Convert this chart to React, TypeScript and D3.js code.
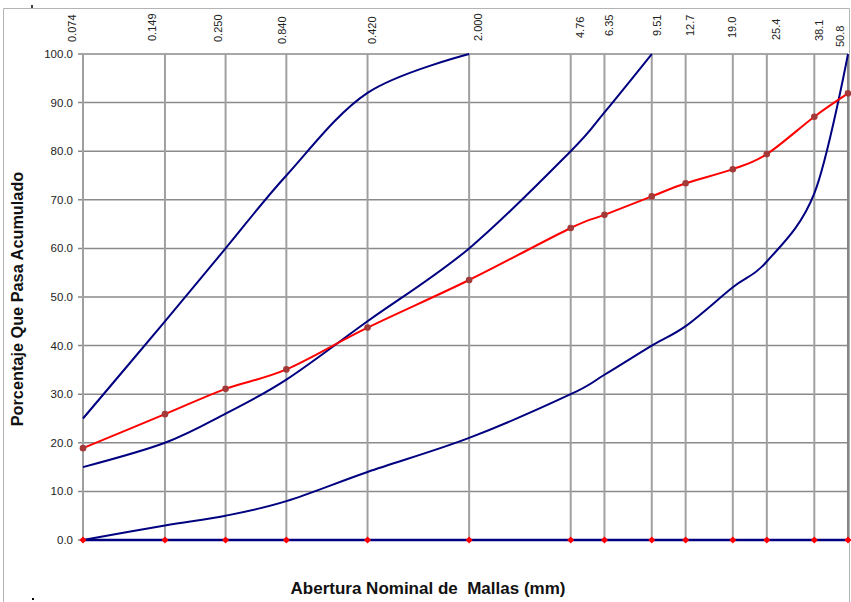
import * as d3 from "d3";

// sieve openings (mm) and the labels printed above each line
const sieveSizes = [0.074, 0.149, 0.25, 0.42, 0.84, 2.0, 4.76, 6.35, 9.51, 12.7, 19.0, 25.4, 38.1, 50.8];
const sieveLabels = ["0.074", "0.149", "0.250", "0.840", "0.420", "2.000", "4.76", "6.35", "9.51", "12.7", "19.0", "25.4", "38.1", "50.8"];

// % passing, sample curve
const passing = [18.9, 25.9, 31.1, 35.1, 43.7, 53.5, 64.2, 66.9, 70.7, 73.4, 76.3, 79.4, 87.1, 91.9];
// envelope curves (blue)
const upperCurve = [25, 45, 60, 75, 92, 100];
const middleCurve = [15, 20, 26, 33, 45, 60, 80, 88, 100];
const lowerCurve = [0, 3, 5, 8, 14, 21, 30, 34, 40, 44, 52, 57.3, 71.3, 100];
const zeroSeries = [0, 0, 0, 0, 0, 0, 0, 0, 0, 0, 0, 0, 0, 0];

const yTicks = [0, 10, 20, 30, 40, 50, 60, 70, 80, 90, 100];

// hand placed label nudges (the top labels are not exactly on their lines)
const labelDx = [-11, -13, -8, -4, 4, 9, 9, 5, 5, 4, -1, 9, 5, -8];
const labelDy = [1, 0, 1, 3, 3, 0, -3, -5, -5, -5, -3, -1, 0, 6];

const W = 851;
const H = 602;
const left = 83;
const right = 848;
const top = 54;
const bottom = 540;

const App = () => {
  const x = d3.scaleLog().domain([0.074, 50.8]).range([left, right]);
  const y = d3.scaleLinear().domain([0, 100]).range([bottom, top]);

  const line = d3
    .line<[number, number]>()
    .x((d) => x(d[0]))
    .y((d) => y(d[1]))
    .curve(d3.curveCatmullRom.alpha(0));

  const pts = (vals: number[]) => vals.map((v, i) => [sieveSizes[i], v] as [number, number]);

  const blues = [upperCurve, middleCurve, lowerCurve];

  return (
    <div>
      <style>{"body{margin:0}"}</style>
      <svg width={W} height={H} style={{ display: "block", fontFamily: "Arial, 'Liberation Sans', sans-serif" }}>
        <rect x={0} y={0} width={W} height={H} fill="white" />
        {/* outer frame */}
        <path d={`M3.5,${H} V8.5 H849.5 V${H}`} fill="none" stroke="#b4b4b4" strokeWidth={1} />
        <line x1={32} x2={32} y1={5} y2={8} stroke="#000" strokeWidth={1.5} />
        <line x1={32} x2={34} y1={599} y2={599} stroke="#000" strokeWidth={2} />

        {/* horizontal grid */}
        {yTicks.map((t) => (
          <line key={"h" + t} x1={left - 5} x2={right} y1={y(t)} y2={y(t)} stroke="#8a8a8a" strokeWidth={1.5} />
        ))}
        {/* vertical grid */}
        {sieveSizes.map((s) => (
          <line key={"v" + s} x1={x(s)} x2={x(s)} y1={top} y2={bottom} stroke="#a0a0a0" strokeWidth={2} />
        ))}
        <line x1={right} x2={right} y1={top} y2={bottom} stroke="#6a6a6a" strokeWidth={1} />

        {/* y labels */}
        {yTicks.map((t) => (
          <text key={"yl" + t} x={73} y={y(t)} textAnchor="end" dominantBaseline="central" fontSize={11.5} fill="#222">
            {t.toFixed(1)}
          </text>
        ))}

        {/* top sieve labels */}
        {sieveLabels.map((lab, i) => {
          const cx = x(sieveSizes[i]) + labelDx[i];
          const ey = 41 + labelDy[i];
          return (
            <text
              key={"tl" + i}
              transform={`translate(${cx},${ey}) rotate(-90)`}
              textAnchor="start"
              dominantBaseline="central"
              fontSize={11}
              fill="#222"
            >
              {lab}
            </text>
          );
        })}

        {/* envelope curves */}
        {blues.map((c, i) => (
          <path key={"b" + i} d={line(pts(c)) || ""} fill="none" stroke="#000080" strokeWidth={2} />
        ))}

        {/* zero line + markers */}
        <path d={d3.line<[number, number]>().x((d) => x(d[0])).y((d) => y(d[1]))(pts(zeroSeries)) || ""} fill="none" stroke="#000080" strokeWidth={2.5} />
        {zeroSeries.map((v, i) => (
          <rect
            key={"z" + i}
            x={-2.5}
            y={-2.5}
            width={5}
            height={5}
            fill="#ff0000"
            transform={`translate(${x(sieveSizes[i])},${y(v)}) rotate(45)`}
          />
        ))}

        {/* sample curve */}
        <path d={line(pts(passing)) || ""} fill="none" stroke="#ff0000" strokeWidth={2} />
        {passing.map((v, i) => (
          <circle key={"p" + i} cx={x(sieveSizes[i])} cy={y(v)} r={3.3} fill="#a33a3a" />
        ))}

        {/* axis titles */}
        <text
          transform={`translate(23,${(top + bottom) / 2 + 2}) rotate(-90)`}
          textAnchor="middle"
          fontSize={16.3}
          fontWeight="bold"
          fill="#111"
        >
          Porcentaje Que Pasa Acumulado
        </text>
        <text x={428} y={594} textAnchor="middle" fontSize={17} fontWeight="bold" fill="#111" style={{ whiteSpace: "pre" }}>
          {"Abertura Nominal de  Mallas (mm)"}
        </text>
      </svg>
    </div>
  );
};

export default App;
